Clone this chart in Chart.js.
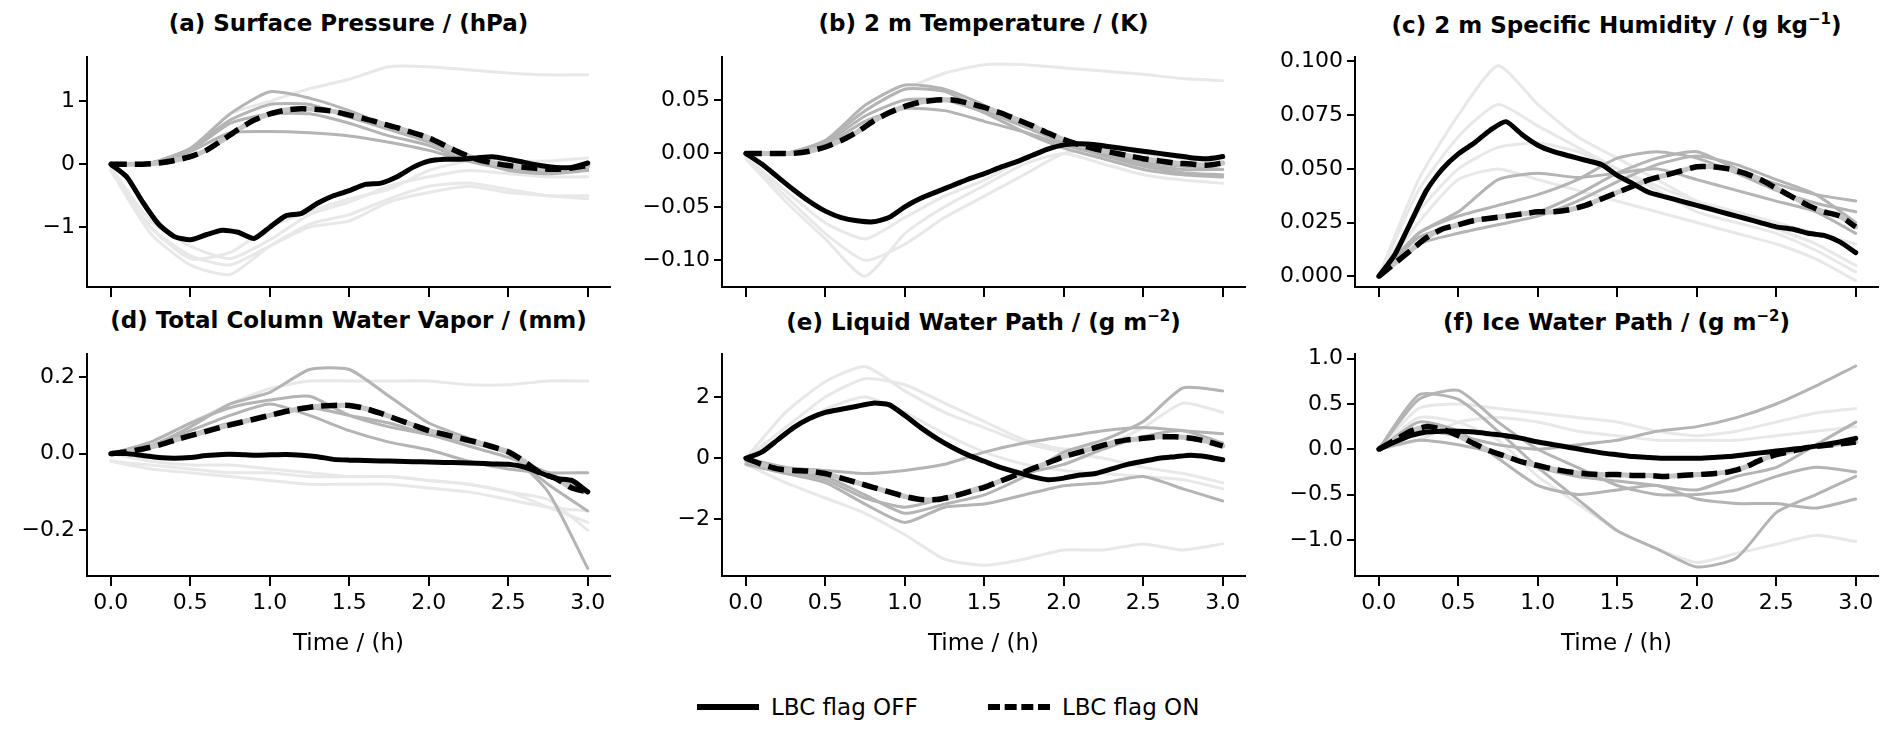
<!DOCTYPE html>
<html><head><meta charset="utf-8">
<script src="https://cdn.jsdelivr.net/npm/chart.js@4/dist/chart.umd.min.js"></script>
<style>
body{margin:0;background:#fff;font-family:"DejaVu Sans",sans-serif;width:1892px;height:746px;position:relative;overflow:hidden}
.box{position:absolute}
.ttl{position:absolute;font-weight:bold;font-size:23px;text-align:center;width:523px;white-space:nowrap}
.ttl sup{font-size:15px}
.leg{position:absolute;top:694px;font-size:23px;display:flex;align-items:center}
.leg span.l{display:inline-block;width:62px;margin-right:12px;border-top:6px solid #000}
</style></head><body>
<script>
// time axes
const tFine = [0,0.1,0.2,0.3,0.4,0.5,0.6,0.7,0.8,0.9,1.0,1.1,1.2,1.3,1.4,1.5,1.6,1.7,1.8,1.9,2.0,2.1,2.2,2.3,2.4,2.5,2.6,2.7,2.8,2.9,3.0];
const tCoarse = [0,0.25,0.5,0.75,1.0,1.25,1.5,1.75,2.0,2.25,2.5,2.75,3.0];

// (a) surface pressure
const psOff = [0,-0.2,-0.6,-0.95,-1.15,-1.2,-1.12,-1.05,-1.08,-1.18,-1.0,-0.82,-0.78,-0.62,-0.5,-0.42,-0.32,-0.3,-0.2,-0.05,0.05,0.08,0.08,0.1,0.12,0.08,0.03,-0.02,-0.05,-0.05,0.02];
const psOn = [0,0,0,0.02,0.06,0.12,0.22,0.38,0.55,0.7,0.8,0.86,0.88,0.87,0.84,0.78,0.72,0.65,0.58,0.5,0.42,0.3,0.18,0.08,0.02,-0.02,-0.05,-0.07,-0.08,-0.06,-0.02];
const psMid = [
  [0,0.02,0.25,0.8,1.15,1.05,0.85,0.6,0.4,0.1,-0.05,-0.1,-0.08],
  [0,0.01,0.2,0.5,0.52,0.5,0.45,0.35,0.22,0.05,-0.05,-0.1,-0.1],
  [0,0.02,0.25,0.7,0.95,0.95,0.75,0.55,0.35,0.1,-0.1,-0.15,-0.1],
  [0,0.02,0.22,0.65,0.8,0.8,0.65,0.45,0.3,0.05,-0.08,-0.12,-0.05]];
const psLight = [
  [0,0.01,0.25,0.8,1.0,1.2,1.35,1.55,1.55,1.5,1.45,1.42,1.42],
  [-0.1,-1.0,-1.5,-1.4,-1.0,-0.75,-0.55,-0.4,-0.1,0.05,0.05,0.05,0.1],
  [-0.1,-1.1,-1.6,-1.75,-1.3,-0.95,-0.8,-0.55,-0.35,-0.3,-0.4,-0.5,-0.5],
  [-0.05,-0.9,-1.3,-1.5,-1.2,-0.8,-0.6,-0.35,-0.2,-0.1,-0.15,-0.2,-0.2],
  [-0.1,-1.0,-1.45,-1.6,-1.3,-1.0,-0.9,-0.6,-0.45,-0.35,-0.45,-0.5,-0.55]];

// (b) 2 m temperature
const t2Off = [0,-0.01,-0.022,-0.034,-0.045,-0.054,-0.06,-0.063,-0.064,-0.06,-0.05,-0.042,-0.036,-0.03,-0.024,-0.019,-0.013,-0.008,-0.002,0.004,0.008,0.009,0.008,0.006,0.004,0.002,0,-0.002,-0.004,-0.005,-0.003];
const t2On = [0,0,0,0,0.002,0.006,0.012,0.02,0.03,0.038,0.044,0.048,0.05,0.05,0.047,0.043,0.038,0.032,0.026,0.019,0.013,0.008,0.004,0.001,-0.002,-0.005,-0.007,-0.009,-0.01,-0.011,-0.009];
const t2Mid = [
  [0,0,0.012,0.04,0.06,0.058,0.04,0.025,0.01,0,-0.01,-0.015,-0.015],
  [0,0,0.008,0.03,0.042,0.04,0.03,0.02,0.008,-0.002,-0.012,-0.018,-0.02],
  [0,0,0.012,0.045,0.064,0.06,0.045,0.025,0.012,0,-0.008,-0.012,-0.015],
  [0,0,0.01,0.035,0.05,0.05,0.038,0.02,0.005,-0.005,-0.015,-0.02,-0.022]];
const t2Light = [
  [0,0,0.012,0.04,0.06,0.075,0.083,0.083,0.08,0.077,0.074,0.07,0.068],
  [-0.005,-0.04,-0.075,-0.1,-0.085,-0.06,-0.04,-0.02,0,0.005,0,-0.01,-0.015],
  [-0.005,-0.045,-0.08,-0.115,-0.075,-0.05,-0.03,-0.01,0,-0.01,-0.02,-0.025,-0.028],
  [-0.003,-0.035,-0.065,-0.08,-0.06,-0.04,-0.025,-0.005,0.01,0.008,0.003,-0.005,-0.008]];

// (c) 2 m specific humidity
const q2Off = [0,0.01,0.025,0.04,0.05,0.057,0.062,0.068,0.072,0.066,0.061,0.058,0.056,0.054,0.052,0.047,0.043,0.039,0.037,0.035,0.033,0.031,0.029,0.027,0.025,0.023,0.022,0.02,0.019,0.016,0.011];
const q2On = [0,0.006,0.012,0.018,0.022,0.024,0.026,0.027,0.028,0.029,0.03,0.03,0.031,0.033,0.036,0.039,0.042,0.045,0.047,0.049,0.051,0.051,0.05,0.048,0.045,0.041,0.037,0.033,0.03,0.028,0.023];
const q2Mid = [
  [0,0.02,0.028,0.033,0.038,0.045,0.055,0.058,0.055,0.048,0.04,0.034,0.03],
  [0,0.018,0.024,0.028,0.03,0.038,0.048,0.055,0.058,0.05,0.043,0.038,0.035],
  [0,0.015,0.02,0.024,0.028,0.035,0.044,0.052,0.056,0.052,0.045,0.038,0.025],
  [0,0.02,0.03,0.045,0.048,0.046,0.048,0.05,0.045,0.04,0.035,0.03,0.02]];
const q2Light = [
  [0,0.045,0.075,0.098,0.08,0.065,0.055,0.045,0.035,0.028,0.022,0.015,0.005],
  [0,0.04,0.065,0.08,0.07,0.06,0.05,0.04,0.03,0.025,0.02,0.012,0.002],
  [0,0.03,0.05,0.06,0.062,0.058,0.05,0.042,0.035,0.03,0.025,0.02,0.015],
  [0,0.025,0.045,0.05,0.045,0.04,0.035,0.03,0.025,0.02,0.015,0.008,-0.002]];

// (d) total column water vapor
const tcwvOff = [0,0,-0.005,-0.01,-0.012,-0.01,-0.005,-0.002,-0.002,-0.004,-0.003,-0.002,-0.004,-0.008,-0.015,-0.017,-0.018,-0.019,-0.02,-0.021,-0.022,-0.023,-0.024,-0.025,-0.027,-0.028,-0.035,-0.05,-0.065,-0.07,-0.1];
const tcwvOn = [0,0.005,0.012,0.022,0.035,0.047,0.058,0.07,0.08,0.09,0.1,0.11,0.118,0.124,0.126,0.126,0.118,0.105,0.09,0.075,0.06,0.05,0.04,0.03,0.018,0.005,-0.02,-0.05,-0.065,-0.09,-0.1];
const tcwvMid = [
  [0,0.02,0.07,0.13,0.16,0.22,0.22,0.15,0.08,0.04,0.0,-0.08,-0.15],
  [0,0.03,0.08,0.12,0.14,0.15,0.1,0.07,0.05,0.02,-0.01,-0.05,-0.1],
  [0,0.02,0.05,0.08,0.1,0.12,0.1,0.08,0.05,0.03,0.0,-0.1,-0.3],
  [0,0.02,0.06,0.1,0.13,0.1,0.06,0.03,0.01,-0.02,-0.04,-0.05,-0.05]];
const tcwvLight = [
  [0,0.03,0.08,0.13,0.17,0.19,0.19,0.19,0.19,0.18,0.18,0.19,0.19],
  [-0.02,-0.03,-0.04,-0.05,-0.05,-0.06,-0.06,-0.06,-0.07,-0.08,-0.1,-0.12,-0.2],
  [-0.02,-0.04,-0.05,-0.06,-0.07,-0.08,-0.08,-0.08,-0.09,-0.1,-0.12,-0.14,-0.15],
  [0,-0.02,-0.03,-0.03,-0.04,-0.05,-0.06,-0.06,-0.07,-0.08,-0.1,-0.14,-0.18]];

// (e) liquid water path
const lwpOff = [0,0.2,0.6,1.0,1.3,1.5,1.6,1.7,1.8,1.75,1.4,1.0,0.65,0.35,0.1,-0.1,-0.3,-0.45,-0.6,-0.7,-0.65,-0.55,-0.5,-0.35,-0.2,-0.1,0,0.05,0.1,0.05,-0.05];
const lwpOn = [0,-0.2,-0.35,-0.4,-0.42,-0.5,-0.65,-0.8,-0.95,-1.1,-1.25,-1.35,-1.35,-1.25,-1.1,-0.95,-0.75,-0.55,-0.35,-0.15,0.05,0.2,0.35,0.5,0.6,0.65,0.7,0.7,0.65,0.55,0.4];
const lwpMid = [
  [0,-0.4,-0.6,-1.2,-1.8,-1.5,-1.2,-0.6,0.2,0.6,1.2,2.3,2.2],
  [-0.2,-0.5,-0.8,-1.5,-2.1,-1.6,-1.5,-1.2,-0.9,-0.8,-0.6,-1.0,-1.4],
  [0,-0.3,-0.4,-0.5,-0.4,-0.2,0.2,0.5,0.7,0.9,1.0,0.9,0.8],
  [-0.1,-0.4,-0.7,-1.3,-1.6,-1.3,-0.9,-0.5,-0.2,0.3,0.7,0.9,0.5]];
const lwpLight = [
  [0,1.5,2.5,3.0,2.2,1.5,1.0,0.5,0.2,0,-0.3,-0.5,-0.8],
  [-0.2,-0.8,-1.3,-1.8,-2.5,-3.3,-3.5,-3.3,-3.0,-3.0,-2.8,-3.0,-2.8],
  [0,1.0,2.0,2.6,2.4,1.8,1.2,0.6,0.3,0.4,1.0,1.8,1.5],
  [0,0.8,1.6,2.0,1.5,0.8,0.2,-0.2,-0.4,-0.5,-0.6,-0.7,-1.0]];

// (f) ice water path
const iwpOff = [0,0.08,0.15,0.19,0.2,0.2,0.19,0.17,0.15,0.12,0.08,0.05,0.02,-0.01,-0.04,-0.06,-0.08,-0.09,-0.1,-0.1,-0.1,-0.09,-0.08,-0.06,-0.04,-0.02,0,0.02,0.05,0.08,0.12];
const iwpOn = [0,0.1,0.2,0.25,0.22,0.15,0.06,-0.02,-0.08,-0.14,-0.18,-0.22,-0.25,-0.27,-0.28,-0.28,-0.29,-0.29,-0.3,-0.29,-0.28,-0.27,-0.25,-0.2,-0.12,-0.06,-0.02,0.02,0.04,0.06,0.08];
const iwpMid = [
  [0,0.6,0.55,0.2,-0.2,-0.55,-0.9,-1.1,-1.3,-1.2,-0.7,-0.5,-0.3],
  [0,0.55,0.65,0.3,0.0,-0.2,-0.4,-0.5,-0.5,-0.45,-0.3,-0.2,-0.25],
  [0,0.2,0.15,0.05,0.0,0.05,0.1,0.2,0.25,0.35,0.5,0.7,0.92],
  [0,0.3,0.2,-0.1,-0.4,-0.5,-0.45,-0.4,-0.55,-0.6,-0.6,-0.65,-0.55],
  [0,0.1,0.05,-0.05,-0.2,-0.3,-0.35,-0.4,-0.45,-0.3,-0.2,0.05,0.3]];
const iwpLight = [
  [0,0.45,0.5,0.45,0.4,0.35,0.3,0.2,0.15,0.2,0.3,0.4,0.45],
  [0,0.35,0.3,0.1,-0.3,-0.6,-0.9,-1.1,-1.25,-1.15,-1.05,-0.95,-1.02],
  [0,0.1,0.3,0.35,0.3,0.2,0.15,0.1,0.1,0.1,0.15,0.2,0.25]];

const xTicks = [0,0.5,1.0,1.5,2.0,2.5,3.0];
const panels = [
  {title:'(a) Surface Pressure / (hPa)', off:psOff, on:psOn, mid:psMid, light:psLight, ymin:-1.95, ymax:1.7, yticks:[-1,0,1], dec:0},
  {title:'(b) 2 m Temperature / (K)', off:t2Off, on:t2On, mid:t2Mid, light:t2Light, ymin:-0.125, ymax:0.09, yticks:[-0.1,-0.05,0,0.05], dec:2},
  {title:'(c) 2 m Specific Humidity / (g kg<sup>−1</sup>)', off:q2Off, on:q2On, mid:q2Mid, light:q2Light, ymin:-0.005, ymax:0.102, yticks:[0,0.025,0.05,0.075,0.1], dec:3},
  {title:'(d) Total Column Water Vapor / (mm)', off:tcwvOff, on:tcwvOn, mid:tcwvMid, light:tcwvLight, ymin:-0.32, ymax:0.26, yticks:[-0.2,0,0.2], dec:1},
  {title:'(e) Liquid Water Path / (g m<sup>−2</sup>)', off:lwpOff, on:lwpOn, mid:lwpMid, light:lwpLight, ymin:-3.85, ymax:3.4, yticks:[-2,0,2], dec:0},
  {title:'(f) Ice Water Path / (g m<sup>−2</sup>)', off:iwpOff, on:iwpOn, mid:iwpMid, light:iwpLight, ymin:-1.4, ymax:1.05, yticks:[-1,-0.5,0,0.5,1], dec:1}
];

const colLeft = [87, 722, 1355];
const rowTop = [48, 345];
const plotW = 523, plotH = [239, 231];
const yAxisW = 100, padTop = 8;

function fmt(v, dec) {
  const s = Math.abs(v).toFixed(dec);
  return (v < -1e-9 ? '\u2212' : '') + s;
}

panels.forEach((p, i) => {
  const row = Math.floor(i / 3), col = i % 3;
  const xh = row === 1 ? 82 : 20;
  const ttl = document.createElement('div');
  ttl.className = 'ttl';
  ttl.style.left = colLeft[col] + 'px';
  ttl.style.top = (rowTop[row] - 38) + 'px';
  ttl.innerHTML = p.title;
  document.body.appendChild(ttl);

  const box = document.createElement('div');
  box.className = 'box';
  box.style.left = (colLeft[col] - yAxisW) + 'px';
  box.style.top = (rowTop[row] - padTop) + 'px';
  box.style.width = (yAxisW + plotW + 4) + 'px';
  box.style.height = (padTop + plotH[row] + xh) + 'px';
  const cv = document.createElement('canvas');
  box.appendChild(cv);
  document.body.appendChild(box);

  // first dataset is drawn on top in Chart.js, so push from top to bottom
  const datasets = [];
  datasets.push({data: p.off.map((y, k) => ({x: tFine[k], y})), borderColor: '#000', borderWidth: 5});
  datasets.push({data: p.on.map((y, k) => ({x: tFine[k], y})), borderColor: '#000', borderWidth: 5.5, borderDash: [16, 8], borderCapStyle: 'butt'});
  datasets.push({data: p.on.map((y, k) => ({x: tFine[k], y})), borderColor: '#c4c4c4', borderWidth: 5});
  p.mid.forEach(s => datasets.push({data: s.map((y, k) => ({x: tCoarse[k], y})), borderColor: '#b4b4b4', borderWidth: 3}));
  p.light.forEach(s => datasets.push({data: s.map((y, k) => ({x: tCoarse[k], y})), borderColor: '#e8e8e8', borderWidth: 3}));

  new Chart(cv, {
    type: 'line',
    data: {datasets},
    options: {
      responsive: true, maintainAspectRatio: false, animation: false,
      layout: {padding: {top: padTop, right: 4, left: 0, bottom: 0}},
      elements: {point: {radius: 0}, line: {tension: 0.2, borderCapStyle: 'round', borderJoinStyle: 'round'}},
      plugins: {legend: {display: false}, tooltip: {enabled: false}},
      scales: {
        x: {
          type: 'linear', min: -0.15, max: 3.14,
          afterBuildTicks: a => { a.ticks = xTicks.map(v => ({value: v})); },
          afterFit: a => { a.height = xh; },
          grid: {drawOnChartArea: false, color: '#000', lineWidth: 2, tickLength: 10},
          border: {color: '#000', width: 2},
          ticks: {display: row === 1, color: '#000', font: {family: 'DejaVu Sans', size: 22}, padding: 4,
                  callback: v => v.toFixed(1), maxRotation: 0},
          title: {display: row === 1, text: 'Time / (h)', color: '#000', font: {family: 'DejaVu Sans', size: 23}, padding: 0}
        },
        y: {
          min: p.ymin, max: p.ymax,
          afterBuildTicks: a => { a.ticks = p.yticks.map(v => ({value: v})); },
          afterFit: a => { a.width = yAxisW; },
          grid: {drawOnChartArea: false, color: '#000', lineWidth: 2, tickLength: 8},
          border: {color: '#000', width: 2},
          ticks: {color: '#000', font: {family: 'DejaVu Sans', size: 22}, padding: 4, callback: v => fmt(v, p.dec)}
        }
      }
    }
  });
});
</script>
<div class="leg" style="left:697px"><span class="l"></span>LBC flag OFF</div>
<div class="leg" style="left:988px"><span class="l" style="border-top-style:dashed"></span>LBC flag ON</div>
</body></html>
